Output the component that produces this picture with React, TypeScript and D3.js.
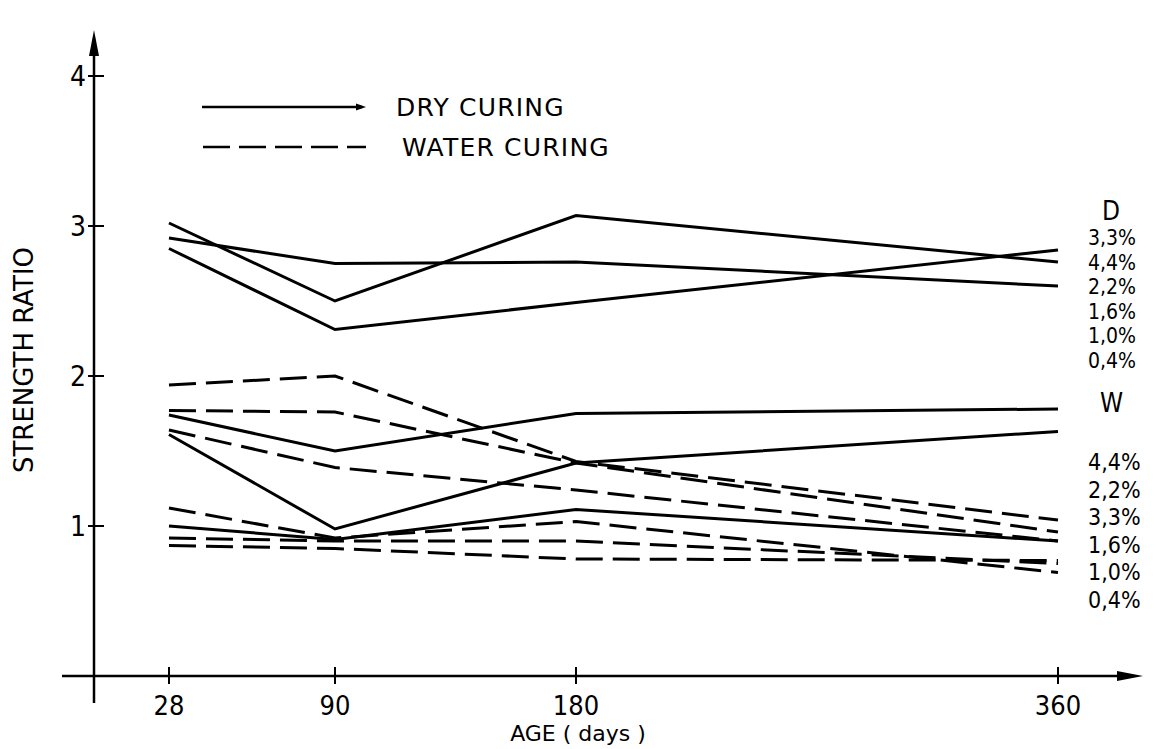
import * as d3 from "d3";

// ages in days
const ages = [28, 90, 180, 360];
const yTicks = [1, 2, 3, 4];

// dry curing (solid lines)
const dry33 = [2.85, 2.31, 2.49, 2.84];
const dry44 = [3.02, 2.5, 3.07, 2.76];
const dry22 = [2.92, 2.75, 2.76, 2.6];
const dry16 = [1.74, 1.5, 1.75, 1.78];
const dry10 = [1.61, 0.98, 1.42, 1.63];
const dry04 = [1.0, 0.91, 1.11, 0.9];

// water curing (dashed lines)
const water44 = [1.94, 2.0, 1.43, 1.04];
const water22 = [1.77, 1.76, 1.42, 0.96];
const water33 = [1.64, 1.39, 1.24, 0.9];
const water16 = [0.87, 0.85, 0.78, 0.77];
const water10 = [0.92, 0.9, 0.9, 0.75];
const water04 = [1.12, 0.92, 1.03, 0.69];

const dryLabels = ["3,3%", "4,4%", "2,2%", "1,6%", "1,0%", "0,4%"];
const waterLabels = ["4,4%", "2,2%", "3,3%", "1,6%", "1,0%", "0,4%"];

const W = 1164;
const H = 749;
const COND = "'DejaVu Sans Condensed', 'DejaVu Sans', sans-serif";
const SANS = "'DejaVu Sans', sans-serif";

export default function App() {
  const x = d3.scaleLinear().domain([0, 360]).range([94, 1058]);
  const y = d3.scaleLinear().domain([0, 4]).range([676, 76]);

  const line = d3
    .line<number>()
    .x((_, i) => x(ages[i]))
    .y((d) => y(d));

  const dry = [dry33, dry44, dry22, dry16, dry10, dry04];
  const water = [water44, water22, water33, water16, water10, water04];

  const x0 = x(0);
  const y0 = y(0);

  return (
    <svg
      width={W}
      height={H}
      style={{ position: "fixed", left: 0, top: 0, background: "#fff" }}
      fontFamily={COND}
    >
      <rect width={W} height={H} fill="#fff" />

      {/* axes */}
      <g stroke="#000" strokeWidth={2.5} fill="none">
        <line x1={x0} y1={703} x2={x0} y2={48} />
        <line x1={62} y1={y0} x2={1125} y2={y0} />
      </g>
      <path d={`M${x0},30 L${x0 - 5},56 L${x0 + 5},56 Z`} fill="#000" />
      <path d={`M1143,${y0} L1117,${y0 - 5} L1117,${y0 + 5} Z`} fill="#000" />

      {/* y ticks */}
      {yTicks.map((t) => (
        <g key={"y" + t}>
          <line x1={x0 - 6} x2={x0 + 10} y1={y(t)} y2={y(t)} stroke="#000" strokeWidth={2} />
          <text x={x0 - 8} y={y(t) + 10} fontSize={28} textAnchor="end">
            {t}
          </text>
        </g>
      ))}

      {/* x ticks */}
      {ages.map((a) => (
        <g key={"x" + a}>
          <line x1={x(a)} x2={x(a)} y1={y0 - 9} y2={y0 + 8} stroke="#000" strokeWidth={2} />
          <text x={x(a)} y={715} fontSize={27} textAnchor="middle">
            {a}
          </text>
        </g>
      ))}

      <text x={578} y={741} fontSize={22} textAnchor="middle" fontFamily={SANS}>
        AGE ( days )
      </text>
      <text
        transform="translate(33,360) rotate(-90)"
        fontSize={26}
        textAnchor="middle"
        fontFamily={SANS}
      >
        STRENGTH RATIO
      </text>

      {/* data */}
      <g fill="none" stroke="#000" strokeWidth={3} strokeLinejoin="miter">
        {dry.map((s, i) => (
          <path key={"d" + i} d={line(s) ?? ""} />
        ))}
        {water.map((s, i) => (
          <path key={"w" + i} d={line(s) ?? ""} strokeDasharray="27,10" />
        ))}
      </g>

      {/* legend */}
      <line x1={202} x2={362} y1={107} y2={107} stroke="#000" strokeWidth={2.5} />
      <path d="M366,107 L356,103.5 L356,110.5 Z" fill="#000" />
      <text x={396} y={116} fontSize={25} fontFamily={SANS} letterSpacing={1.2}>
        DRY CURING
      </text>
      <line
        x1={203}
        x2={366}
        y1={147}
        y2={147}
        stroke="#000"
        strokeWidth={2.5}
        strokeDasharray="27,9"
      />
      <text x={402} y={156} fontSize={25} fontFamily={SANS} letterSpacing={1.2}>
        WATER CURING
      </text>

      {/* right labels */}
      <text x={1102} y={220} fontSize={26}>
        D
      </text>
      {dryLabels.map((l, i) => (
        <text key={"dl" + i} x={1088} y={245 + i * 24.5} fontSize={21}>
          {l}
        </text>
      ))}
      <text x={1100} y={412} fontSize={26}>
        W
      </text>
      {waterLabels.map((l, i) => (
        <text key={"wl" + i} x={1088} y={470 + i * 27.6} fontSize={23}>
          {l}
        </text>
      ))}
    </svg>
  );
}
